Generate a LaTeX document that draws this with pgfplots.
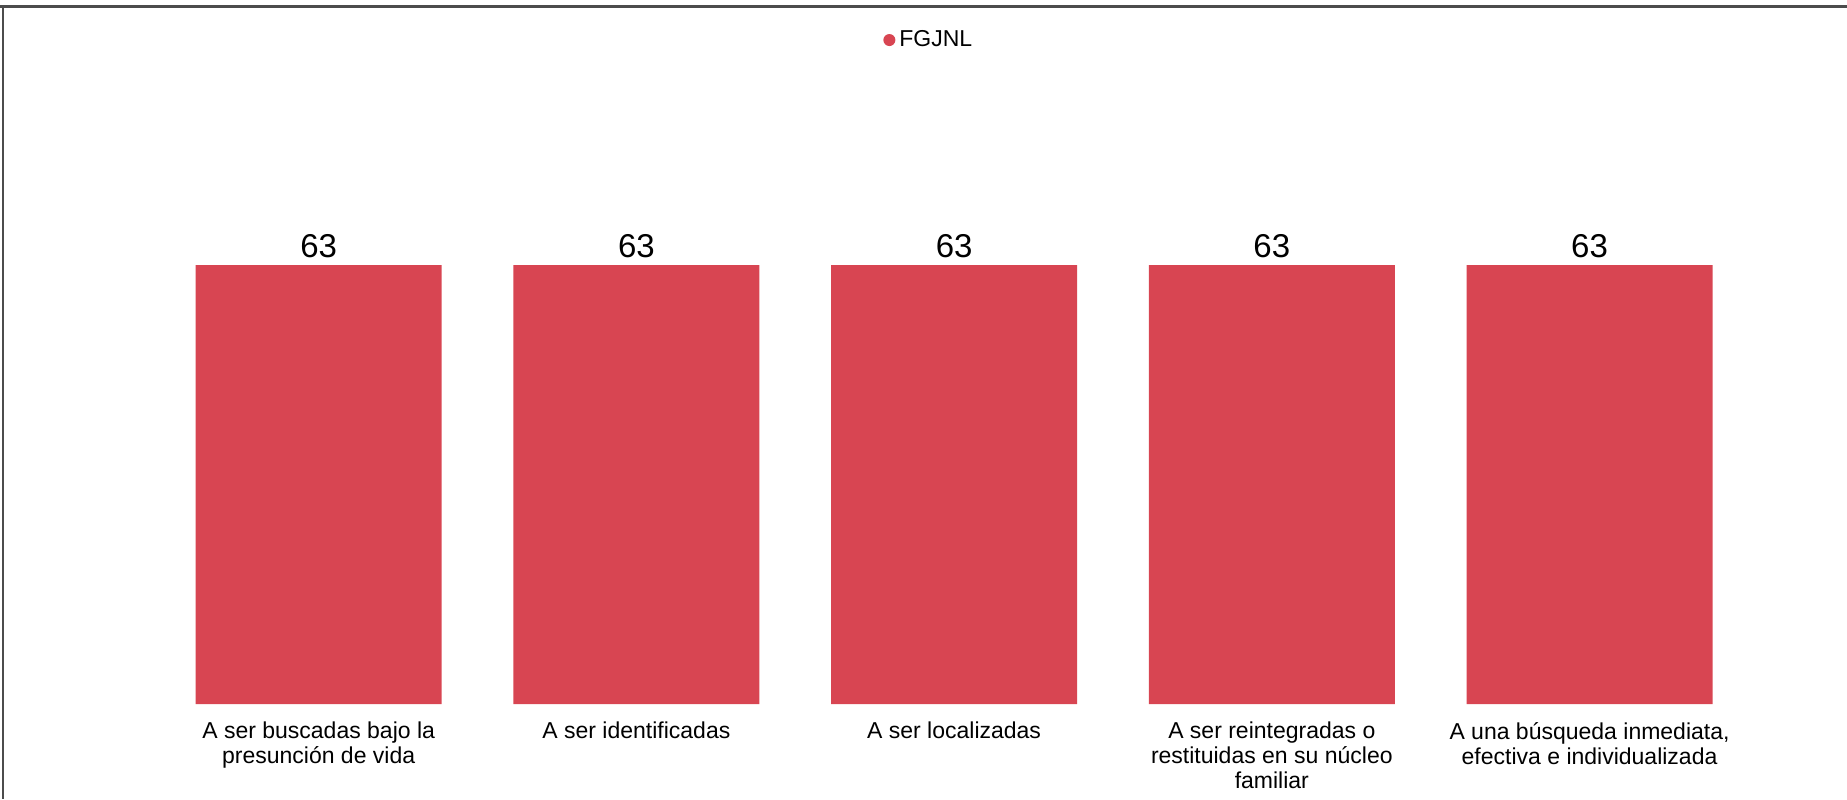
\documentclass[border=0pt]{standalone}
\usepackage{fontspec}
\setmainfont{Liberation Sans}
\usepackage{pgfplots}
\pgfplotsset{compat=1.18}
\definecolor{barred}{RGB}{216,69,82}
\begin{document}
\begin{tikzpicture}
\begin{axis}[
  at={(0,0)}, anchor=south west,
  scale only axis, width=794.3pt, height=219.5pt,
  xmin=-0.5, xmax=4.5, ymin=0, ymax=63,
  axis line style={draw=none},
  hide y axis,
  xtick=data,
  xticklabels={{A ser buscadas bajo la\\presunción de vida},
               {A ser identificadas},
               {A ser localizadas},
               {A ser reintegradas o\\restituidas en su núcleo\\familiar},
               {A una búsqueda inmediata,\\efectiva e individualizada}},
  major tick length=0pt,
  xticklabel style={align=center, font=\fontsize{11.5}{12.5}\selectfont, yshift=-5.5pt},
  ybar, bar width=123pt,
  /pgf/number format/assume math mode=true,
  nodes near coords,
  nodes near coords style={font=\fontsize{16.5}{18}\selectfont, text=black},
  clip=false,
  legend style={at={(0.4847,1.5125)}, anchor=center, draw=none,
    font=\fontsize{11.5}{12}\selectfont, inner sep=0pt},
  legend image code/.code={\fill[barred] (0.2cm,0cm) circle (3pt);},
]
\addplot[fill=barred, draw=none] coordinates {(0,63) (1,63) (2,63) (3,63) (4,63)};
\legend{FGJNL}
\end{axis}
% frame of the original screenshot
\draw[gray!60!black, line width=1.5pt] (-79.9pt,348.5pt) -- (843.6pt,348.5pt);
\draw[gray!60!black, line width=1pt] (-78.4pt,348.5pt) -- (-78.4pt,-47.5pt);
\pgfresetboundingbox
\useasboundingbox (-79.9pt,-47.5pt) rectangle (843.6pt,352pt);
\end{tikzpicture}
\end{document}
